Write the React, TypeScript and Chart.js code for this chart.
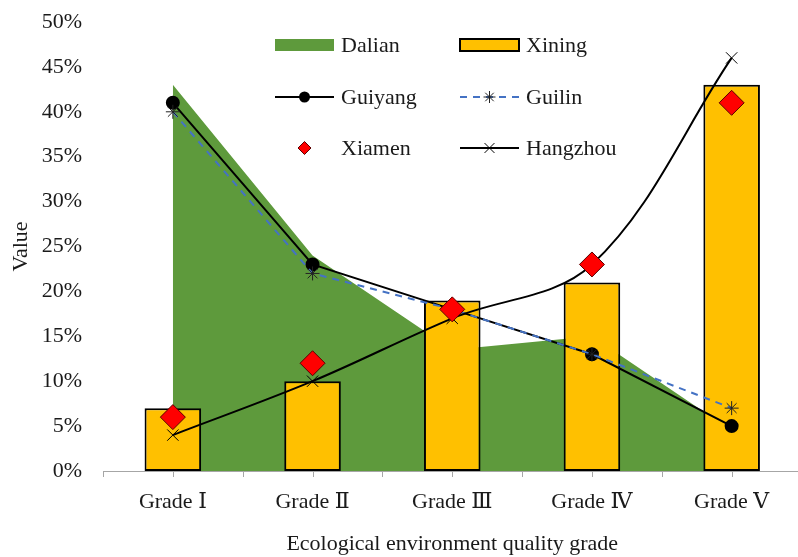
import { useEffect, useRef } from "react";
import { Chart, registerables } from "chart.js";

Chart.register(...registerables);

// Share of each ecological environment quality grade, in percent, per city
const grades = ["Grade Ⅰ", "Grade Ⅱ", "Grade Ⅲ", "Grade Ⅳ", "Grade Ⅴ"];
const dalian = [43, 24, 13.5, 15, 4.5];
const xining = [7, 10, 19, 21, 43];
const guiyang = [41, 23, 18, 13, 5];
const guilin = [40, 22, 18, 13, 7];
const xiamen = [6, 12, 18, 23, 41];
const hangzhou = [4, 10, 17, 23, 46];

// Value axis: 0% to 50% in steps of 5%
const yMin = 0;
const yMax = 50;
const yStep = 5;

const SERIF = '"Liberation Serif", "Times New Roman", "DejaVu Serif", "Noto Sans CJK SC", serif';
const TEXT = "#1a1a1a";
const GREEN = "#5E9A3C";
const GOLD = "#FFC000";
const BLUE = "#4472C4";
const RED = "#FF0000";

// Small marker shapes used in the legend
function marker(ctx: CanvasRenderingContext2D, kind: string, x: number, y: number, r: number) {
  ctx.save();
  ctx.beginPath();
  if (kind === "circle") {
    ctx.fillStyle = "#000";
    ctx.arc(x, y, r, 0, Math.PI * 2);
    ctx.fill();
  } else if (kind === "diamond") {
    ctx.fillStyle = RED;
    ctx.strokeStyle = "#5a0000";
    ctx.lineWidth = 1;
    ctx.moveTo(x, y - r);
    ctx.lineTo(x + r, y);
    ctx.lineTo(x, y + r);
    ctx.lineTo(x - r, y);
    ctx.closePath();
    ctx.fill();
    ctx.stroke();
  } else if (kind === "star") {
    ctx.strokeStyle = "#222";
    ctx.lineWidth = 1;
    for (let a = 0; a < 4; a++) {
      const t = (a * Math.PI) / 4;
      ctx.moveTo(x - Math.cos(t) * r, y - Math.sin(t) * r);
      ctx.lineTo(x + Math.cos(t) * r, y + Math.sin(t) * r);
    }
    ctx.stroke();
  } else if (kind === "x") {
    ctx.strokeStyle = "#000";
    ctx.lineWidth = 1;
    const d = r * Math.SQRT1_2;
    ctx.moveTo(x - d, y - d);
    ctx.lineTo(x + d, y + d);
    ctx.moveTo(x + d, y - d);
    ctx.lineTo(x - d, y + d);
    ctx.stroke();
  }
  ctx.restore();
}

// Two-column legend placed inside the plot area
const cityLegend = {
  id: "cityLegend",
  afterDraw(chart: Chart) {
    const ctx = chart.ctx;
    const cols = [275, 460];
    const rows = [45, 97, 148];
    const swatchW = 59;
    ctx.save();
    ctx.font = `22px ${SERIF}`;
    ctx.fillStyle = TEXT;
    ctx.textBaseline = "alphabetic";
    ctx.textAlign = "left";

    const label = (text: string, c: number, r: number) => {
      ctx.fillStyle = TEXT;
      ctx.fillText(text, cols[c] + swatchW + 7, rows[r] + 7);
    };
    const line = (c: number, r: number, color: string, dash: number[]) => {
      ctx.save();
      ctx.strokeStyle = color;
      ctx.lineWidth = 2;
      ctx.setLineDash(dash);
      ctx.beginPath();
      ctx.moveTo(cols[c], rows[r]);
      ctx.lineTo(cols[c] + swatchW, rows[r]);
      ctx.stroke();
      ctx.restore();
    };

    // Dalian
    ctx.fillStyle = GREEN;
    ctx.fillRect(cols[0], rows[0] - 6, swatchW, 12);
    label("Dalian", 0, 0);
    // Xining
    ctx.fillStyle = GOLD;
    ctx.fillRect(cols[1], rows[0] - 6, swatchW, 12);
    ctx.strokeStyle = "#000";
    ctx.lineWidth = 2;
    ctx.strokeRect(cols[1], rows[0] - 6, swatchW, 12);
    label("Xining", 1, 0);
    // Guiyang
    line(0, 1, "#000", []);
    marker(ctx, "circle", cols[0] + swatchW / 2, rows[1], 5.5);
    label("Guiyang", 0, 1);
    // Guilin
    line(1, 1, BLUE, [7, 6]);
    marker(ctx, "star", cols[1] + swatchW / 2, rows[1], 6);
    label("Guilin", 1, 1);
    // Xiamen
    marker(ctx, "diamond", cols[0] + swatchW / 2, rows[2], 6.5);
    label("Xiamen", 0, 2);
    // Hangzhou
    line(1, 2, "#000", []);
    marker(ctx, "x", cols[1] + swatchW / 2, rows[2], 7);
    label("Hangzhou", 1, 2);
    ctx.restore();
  },
};

// Tick marks under the category axis at every half category
const halfTicks = {
  id: "halfTicks",
  afterDraw(chart: Chart) {
    const xs = chart.scales.x;
    const ctx = chart.ctx;
    const p0 = xs.getPixelForValue(0);
    const half = (xs.getPixelForValue(1) - p0) / 2;
    ctx.save();
    ctx.strokeStyle = "#A6A6A6";
    ctx.lineWidth = 1;
    ctx.beginPath();
    for (let i = 0; i <= grades.length * 2; i++) {
      const x = Math.round(p0 - half + i * half) + 0.5;
      ctx.moveTo(x, xs.top);
      ctx.lineTo(x, xs.top + 6);
    }
    ctx.stroke();
    ctx.restore();
  },
};

export default function App() {
  const ref = useRef<HTMLCanvasElement>(null);

  useEffect(() => {
    if (!ref.current) return;
    const chart = new Chart(ref.current, {
      type: "bar",
      data: {
        labels: grades,
        datasets: [
          {
            type: "line",
            label: "Dalian",
            data: dalian,
            fill: "origin",
            backgroundColor: GREEN,
            borderColor: "rgba(0,0,0,0)",
            borderWidth: 0,
            pointRadius: 0,
            tension: 0,
            order: 6,
          },
          {
            type: "bar",
            label: "Xining",
            data: xining,
            backgroundColor: GOLD,
            borderColor: "#000",
            borderWidth: 2,
            borderSkipped: false,
            categoryPercentage: 1,
            barPercentage: 0.405,
            order: 5,
          },
          {
            type: "line",
            label: "Guiyang",
            data: guiyang,
            borderColor: "#000",
            borderWidth: 2,
            pointStyle: "circle",
            pointRadius: 6,
            pointBackgroundColor: "#000",
            pointBorderColor: "#000",
            fill: false,
            tension: 0,
            order: 4,
          },
          {
            type: "line",
            label: "Guilin",
            data: guilin,
            borderColor: BLUE,
            borderWidth: 2,
            borderDash: [7, 6],
            pointStyle: "star",
            pointRadius: 7,
            pointBorderColor: "#222",
            pointBorderWidth: 1,
            pointBackgroundColor: "#222",
            fill: false,
            tension: 0,
            order: 3,
          },
          {
            type: "line",
            label: "Hangzhou",
            data: hangzhou,
            borderColor: "#000",
            borderWidth: 2,
            pointStyle: "crossRot",
            pointRadius: 8,
            pointBorderColor: "#000",
            pointBorderWidth: 1,
            fill: false,
            tension: 0.35,
            order: 2,
          },
          {
            type: "line",
            label: "Xiamen",
            data: xiamen,
            showLine: false,
            pointStyle: "rectRot",
            pointRadius: 12.5,
            pointBackgroundColor: RED,
            pointBorderColor: "#5a0000",
            pointBorderWidth: 1,
            fill: false,
            order: 1,
          },
        ],
      },
      options: {
        responsive: false,
        animation: false,
        devicePixelRatio: 1,
        layout: { padding: { top: 22, right: 5, left: 0, bottom: 0 } },
        plugins: {
          legend: { display: false },
          tooltip: { enabled: false },
        },
        scales: {
          x: {
            type: "category",
            offset: true,
            grid: { display: false, drawTicks: false },
            border: { display: true, color: "#A6A6A6", width: 1 },
            ticks: {
              color: TEXT,
              font: { family: SERIF, size: 22 },
              padding: 18,
              maxRotation: 0,
              autoSkip: false,
            },
            title: {
              display: true,
              text: "Ecological environment quality grade",
              color: TEXT,
              font: { family: SERIF, size: 22 },
              padding: { top: 0, bottom: 0 },
            },
            afterFit: (s: any) => {
              s.height = 86;
            },
          },
          y: {
            min: yMin,
            max: yMax,
            grid: { display: false, drawTicks: false },
            border: { display: false },
            ticks: {
              stepSize: yStep,
              color: TEXT,
              font: { family: SERIF, size: 22 },
              padding: 21,
              callback: (v: any) => `${v}%`,
            },
            title: {
              display: true,
              text: "Value",
              color: TEXT,
              font: { family: SERIF, size: 22 },
              padding: { top: 8, bottom: 0 },
            },
            afterFit: (s: any) => {
              s.width = 103;
              s.paddingTop = 0;
              s.paddingBottom = 0;
            },
          },
        },
      },
      plugins: [halfTicks, cityLegend],
    } as any);
    return () => chart.destroy();
  }, []);

  return (
    <div
      style={{
        position: "fixed",
        left: 0,
        top: 0,
        width: 815,
        height: 557,
        background: "#fff",
        overflow: "hidden",
      }}
    >
      <canvas ref={ref} width={815} height={557} style={{ display: "block", width: 815, height: 557 }} />
    </div>
  );
}
